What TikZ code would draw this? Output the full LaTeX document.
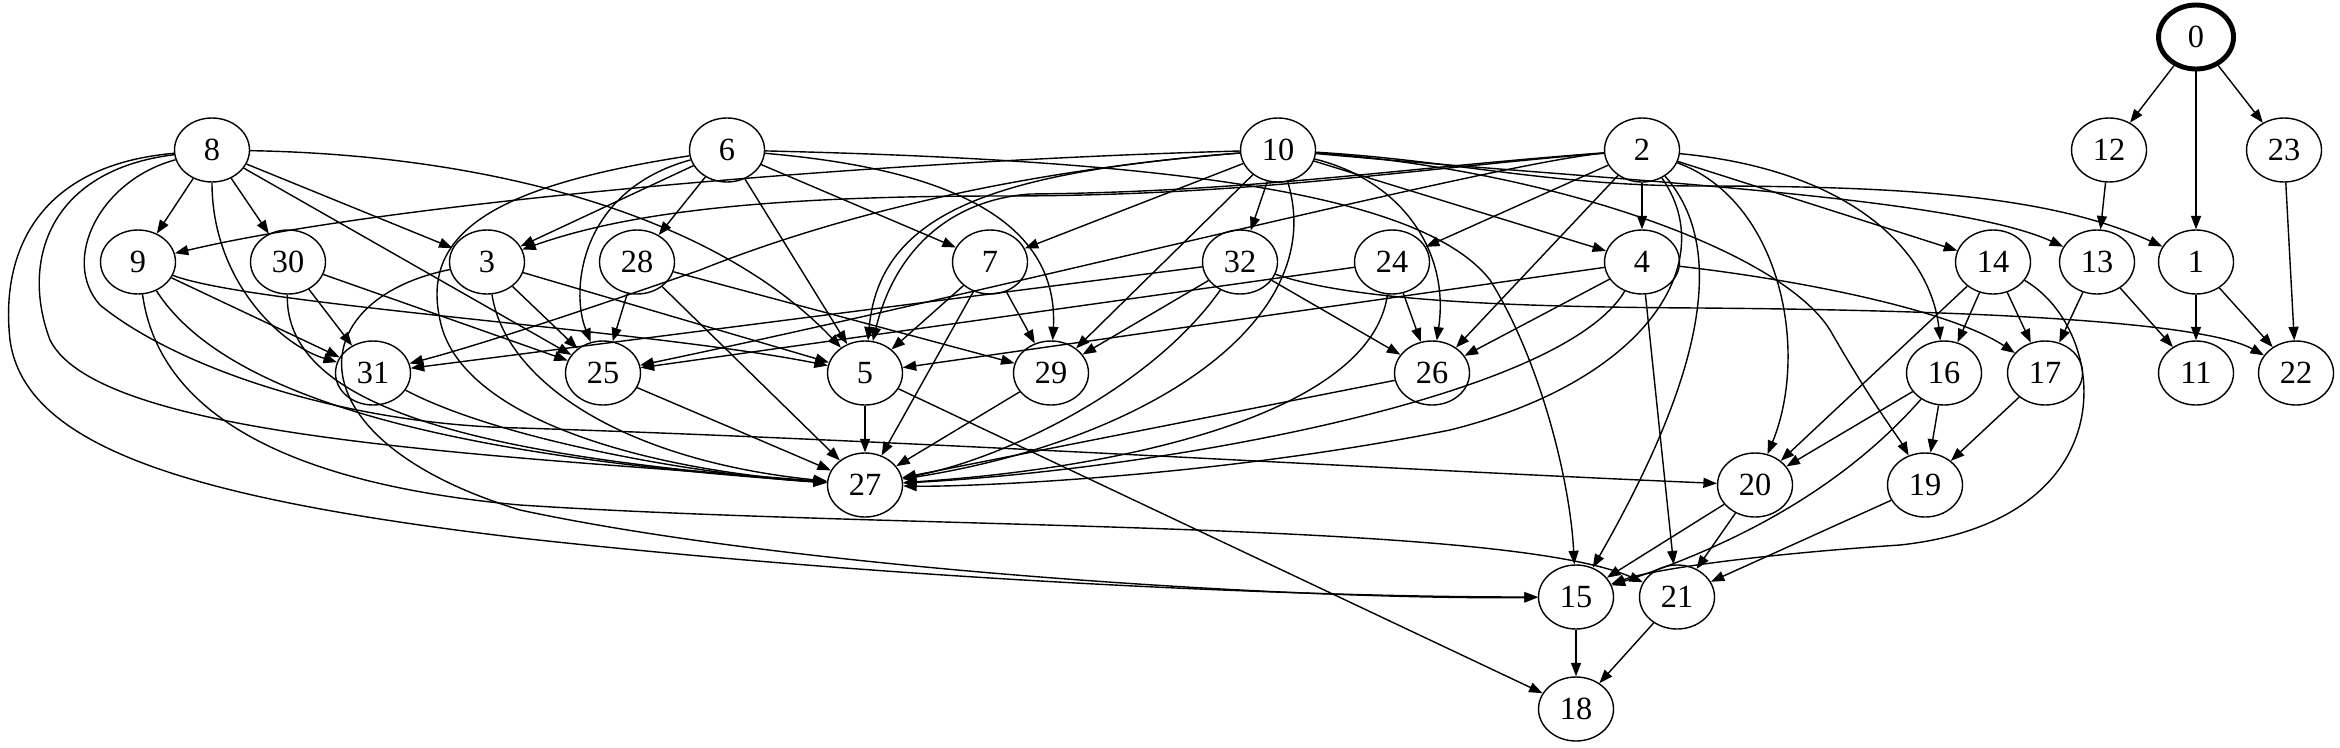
\documentclass[tikz,border=0pt]{standalone}
\usepackage{fontspec}
\setmainfont{Liberation Serif}
\usetikzlibrary{shapes.geometric,arrows.meta}
\begin{document}
\begin{tikzpicture}[x=0.1mm,y=-0.1mm,
  v/.style={draw,ellipse,minimum width=7.5mm,minimum height=6.4mm,inner sep=0pt,line width=0.4pt,font=\fontsize{9.2}{11}\selectfont},
  e/.style={-{Triangle[length=1.35mm,width=1mm]},line width=0.4pt}]
\useasboundingbox (0,0) rectangle (2340,747);
\node[v,line width=1.4pt] (n0) at (2196,37) {0};
\node[v] (n8) at (212,150) {8};
\node[v] (n6) at (727,150) {6};
\node[v] (n10) at (1278,150) {10};
\node[v] (n2) at (1642,150) {2};
\node[v] (n12) at (2109,150) {12};
\node[v] (n23) at (2284,150) {23};
\node[v] (n9) at (138,262) {9};
\node[v] (n30) at (288,262) {30};
\node[v] (n3) at (487,262) {3};
\node[v] (n28) at (637,262) {28};
\node[v] (n7) at (990,262) {7};
\node[v] (n32) at (1240,262) {32};
\node[v] (n24) at (1392,262) {24};
\node[v] (n4) at (1642,262) {4};
\node[v] (n14) at (1993,262) {14};
\node[v] (n13) at (2097,262) {13};
\node[v] (n1) at (2196,262) {1};
\node[v] (n31) at (373,373) {31};
\node[v] (n25) at (603,373) {25};
\node[v] (n5) at (865,373) {5};
\node[v] (n29) at (1051,373) {29};
\node[v] (n26) at (1432,373) {26};
\node[v] (n16) at (1944,373) {16};
\node[v] (n17) at (2045,373) {17};
\node[v] (n11) at (2196,373) {11};
\node[v] (n22) at (2296,373) {22};
\node[v] (n27) at (865,485) {27};
\node[v] (n20) at (1755,485) {20};
\node[v] (n19) at (1925,485) {19};
\node[v] (n15) at (1576,597) {15};
\node[v] (n21) at (1677,597) {21};
\node[v] (n18) at (1576,709) {18};
% top
\draw[e] (n0) -- (n12);
\draw[e] (n0) -- (n1);
\draw[e] (n0) -- (n23);
\draw[e] (n12) -- (n13);
\draw[e] (n23) -- (n22);
% from 8
\draw[e] (n8) -- (n9);
\draw[e] (n8) -- (n30);
\draw[e] (n8) -- (n3);
\draw[e] (n8) -- (n25);
\draw[e] (n8) .. controls (212,280) and (280,345) .. (n31);
\draw[e] (n8) .. controls (500,155) and (720,220) .. (n5);
\draw[e] (n8) .. controls (40,165) and (0,250) .. (10,340) .. controls (25,450) and (200,500) .. (520,538) .. controls (900,580) and (1300,597) .. (n15);
\draw[e] (n8) .. controls (50,170) and (20,260) .. (50,340) .. controls (100,440) and (500,455) .. (n27);
\draw[e] (n8) .. controls (100,180) and (60,260) .. (100,305) .. controls (180,370) and (350,425) .. (520,428) .. controls (900,440) and (1400,470) .. (n20);
% from 6
\draw[e] (n6) -- (n3);
\draw[e] (n6) -- (n28);
\draw[e] (n6) -- (n5);
\draw[e] (n6) -- (n7);
\draw[e] (n6) .. controls (580,190) and (570,290) .. (n25);
\draw[e] (n6) .. controls (500,185) and (420,230) .. (440,320) .. controls (460,420) and (650,470) .. (n27);
\draw[e] (n6) .. controls (900,165) and (1060,200) .. (n29);
\draw[e] (n6) .. controls (1150,160) and (1420,190) .. (1490,280) .. controls (1540,360) and (1570,480) .. (n15);
% from 10
\draw[e] (n10) .. controls (900,160) and (400,200) .. (n9);
\draw[e] (n10) .. controls (1000,172) and (880,210) .. (n5);
\draw[e] (n10) .. controls (1000,172) and (820,222) .. (700,270) .. controls (600,305) and (480,345) .. (n31);
\draw[e] (n10) -- (n7);
\draw[e] (n10) -- (n32);
\draw[e] (n10) -- (n29);
\draw[e] (n10) .. controls (1330,320) and (1150,440) .. (n27);
\draw[e] (n10) .. controls (1400,180) and (1450,250) .. (n26);
\draw[e] (n10) -- (n4);
\draw[e] (n10) .. controls (1600,180) and (1950,195) .. (n13);
\draw[e] (n10) .. controls (1450,160) and (1550,186) .. (1700,186) .. controls (1900,186) and (2050,195) .. (n1);
\draw[e] (n10) .. controls (1550,170) and (1780,250) .. (1830,330) .. controls (1870,400) and (1900,440) .. (n19);
% from 2
\draw[e] (n2) .. controls (1400,170) and (1250,196) .. (1000,196) .. controls (750,196) and (620,215) .. (n3);
\draw[e] (n2) .. controls (1400,168) and (1250,192) .. (1030,194) .. controls (950,200) and (895,250) .. (n5);
\draw[e] (n2) .. controls (1500,162) and (1000,290) .. (n25);
\draw[e] (n2) -- (n24);
\draw[e] (n2) -- (n4);
\draw[e] (n2) -- (n14);
\draw[e] (n2) -- (n26);
\draw[e] (n2) .. controls (1720,260) and (1650,380) .. (1450,430) .. controls (1200,480) and (950,487) .. (n27);
\draw[e] (n2) .. controls (1730,250) and (1700,380) .. (n15);
\draw[e] (n2) .. controls (1780,200) and (1810,350) .. (n20);
\draw[e] (n2) .. controls (1850,170) and (1930,250) .. (n16);
% second row
\draw[e] (n9) -- (n31);
\draw[e] (n9) .. controls (250,305) and (650,330) .. (n5);
\draw[e] (n9) .. controls (220,390) and (420,455) .. (n27);
\draw[e] (n9) .. controls (160,420) and (300,485) .. (520,505) .. controls (900,530) and (1500,520) .. (n21);
\draw[e] (n30) -- (n31);
\draw[e] (n30) -- (n25);
\draw[e] (n30) .. controls (285,400) and (450,455) .. (n27);
\draw[e] (n3) -- (n25);
\draw[e] (n3) -- (n5);
\draw[e] (n3) .. controls (505,380) and (620,460) .. (n27);
\draw[e] (n3) .. controls (300,300) and (290,440) .. (520,510) .. controls (800,570) and (1300,600) .. (n15);
\draw[e] (n28) -- (n25);
\draw[e] (n28) -- (n27);
\draw[e] (n28) -- (n29);
\draw[e] (n7) -- (n5);
\draw[e] (n7) -- (n29);
\draw[e] (n7) -- (n27);
\draw[e] (n32) -- (n31);
\draw[e] (n32) -- (n29);
\draw[e] (n32) -- (n26);
\draw[e] (n32) .. controls (1150,390) and (1000,460) .. (n27);
\draw[e] (n32) .. controls (1350,300) and (1500,307) .. (1700,308) .. controls (1950,310) and (2200,320) .. (n22);
\draw[e] (n24) -- (n25);
\draw[e] (n24) -- (n26);
\draw[e] (n24) .. controls (1370,420) and (1100,470) .. (n27);
\draw[e] (n4) -- (n5);
\draw[e] (n4) -- (n26);
\draw[e] (n4) .. controls (1560,400) and (1150,470) .. (n27);
\draw[e] (n4) -- (n21);
\draw[e] (n4) .. controls (1800,280) and (1950,310) .. (n17);
\draw[e] (n14) -- (n16);
\draw[e] (n14) -- (n17);
\draw[e] (n14) -- (n20);
\draw[e] (n14) .. controls (2110,330) and (2130,520) .. (1900,545) .. controls (1750,555) and (1650,570) .. (n15);
\draw[e] (n13) -- (n17);
\draw[e] (n13) -- (n11);
\draw[e] (n1) -- (n11);
\draw[e] (n1) -- (n22);
% third row
\draw[e] (n31) .. controls (500,440) and (700,475) .. (n27);
\draw[e] (n25) -- (n27);
\draw[e] (n5) -- (n27);
\draw[e] (n5) -- (n18);
\draw[e] (n29) -- (n27);
\draw[e] (n26) -- (n27);
\draw[e] (n16) -- (n20);
\draw[e] (n16) -- (n19);
\draw[e] (n16) .. controls (1850,480) and (1750,540) .. (n15);
\draw[e] (n17) -- (n19);
% bottom
\draw[e] (n20) -- (n15);
\draw[e] (n20) -- (n21);
\draw[e] (n19) -- (n21);
\draw[e] (n15) -- (n18);
\draw[e] (n21) -- (n18);
\end{tikzpicture}
\end{document}
